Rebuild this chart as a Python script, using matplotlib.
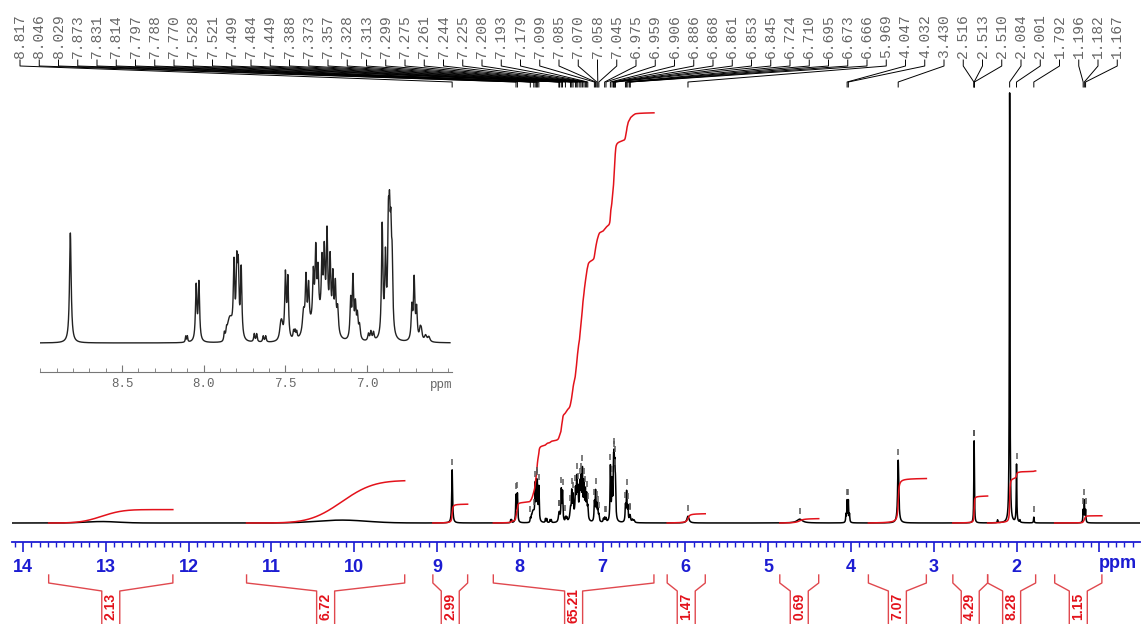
import numpy as np
import matplotlib
matplotlib.use('Agg')
from matplotlib import pyplot as plt

# picked peak labels along the top (ppm)
peak_labels = [8.817, 8.046, 8.029, 7.873, 7.831, 7.814, 7.797, 7.788, 7.770, 7.528,
               7.521, 7.499, 7.484, 7.449, 7.388, 7.373, 7.357, 7.328, 7.313, 7.299,
               7.275, 7.261, 7.244, 7.225, 7.208, 7.193, 7.179, 7.099, 7.085, 7.070,
               7.058, 7.045, 6.975, 6.959, 6.906, 6.886, 6.868, 6.861, 6.853, 6.845,
               6.724, 6.710, 6.695, 6.673, 6.666, 5.969, 4.047, 4.032, 3.430, 2.516,
               2.513, 2.510, 2.084, 2.001, 1.792, 1.196, 1.182, 1.167]

# sharp lines (lorentzian): position ppm, height, half width ppm
line_ppm = [8.817, 8.110, 8.100, 8.046, 8.029, 7.873, 7.860,
            7.814, 7.797, 7.788, 7.770, 7.690, 7.675, 7.635, 7.620,
            7.528, 7.521, 7.499, 7.484, 7.449, 7.440, 7.430,
            7.388, 7.373, 7.357, 7.328, 7.313, 7.299, 7.275, 7.261, 7.244, 7.225,
            7.208, 7.193, 7.179, 7.099, 7.085, 7.070, 7.058, 7.045,
            6.990, 6.975, 6.959, 6.906, 6.886, 6.868, 6.861, 6.853, 6.845,
            6.724, 6.710, 6.695, 6.673, 6.666, 6.640, 6.620,
            5.969, 4.620, 4.061, 4.047, 4.032, 4.018, 3.430,
            2.516, 2.513, 2.510, 2.230, 2.084, 2.001, 1.960, 1.792,
            1.196, 1.182, 1.167]
line_height = [110, 6, 6, 55, 58, 8, 6,
               72, 68, 64, 70, 8, 8, 6, 6,
               12, 12, 64, 60, 8, 8, 7,
               22, 52, 42, 48, 68, 46, 56, 66, 88, 66,
               52, 46, 26, 38, 60, 32, 22, 14,
               7, 9, 8, 112, 76, 95, 88, 80, 64,
               32, 60, 30, 10, 9, 6, 5,
               14, 8, 16, 44, 44, 16, 130,
               60, 110, 60, 6, 890, 120, 5, 12,
               25, 45, 25]
line_width = [0.006, 0.003, 0.003, 0.005, 0.005, 0.004, 0.004,
              0.005, 0.005, 0.005, 0.005, 0.004, 0.004, 0.004, 0.004,
              0.008, 0.008, 0.005, 0.005, 0.004, 0.004, 0.004,
              0.008, 0.005, 0.005, 0.005, 0.005, 0.005, 0.005, 0.005, 0.005, 0.005,
              0.005, 0.005, 0.006, 0.005, 0.005, 0.005, 0.005, 0.006,
              0.005, 0.005, 0.005, 0.005, 0.005, 0.005, 0.005, 0.005, 0.005,
              0.005, 0.005, 0.005, 0.006, 0.006, 0.008, 0.008,
              0.015, 0.04, 0.004, 0.004, 0.004, 0.004, 0.008,
              0.003, 0.003, 0.003, 0.004, 0.004, 0.004, 0.004, 0.004,
              0.004, 0.004, 0.004]

# broad humps (gaussian): position ppm, height, sigma ppm
hump_ppm = [13.05, 10.15, 7.84, 7.29]
hump_height = [3, 6, 22, 20]
hump_sigma = [0.2, 0.3, 0.015, 0.06]

# integral regions (ppm) and values
int_start = [13.69, 11.30, 9.05, 8.32, 6.22, 4.86, 3.79, 2.77, 2.35, 1.54]
int_end = [12.19, 9.39, 8.63, 6.38, 5.76, 4.39, 3.09, 2.35, 1.77, 0.97]
int_value = [2.13, 6.72, 2.99, 65.21, 1.47, 0.69, 7.07, 4.29, 8.28, 1.15]

extra_marks = [4.62]

BLUE = '#1c1cd2'
RED = '#e3121b'
BRACKET = '#e0484e'
GRAY = '#5a5a5a'

W, H = 1143, 624
BASE = 523          # pixel row of the spectrum baseline
PX_PPM = 82.8       # pixels per ppm on the main scale
MAIN_SCALE = 1 / 2.07
INT_PX = 6.29       # pixels per integral unit


def spectrum(x):
    y = np.zeros_like(x)
    for p, h, w in zip(line_ppm, line_height, line_width):
        y += h * w**2 / ((x - p)**2 + w**2)
    for p, h, s in zip(hump_ppm, hump_height, hump_sigma):
        y += h * np.exp(-0.5 * ((x - p) / s)**2)
    return y


def px_to_ppm(px):
    return 14 - (px - 23) / PX_PPM


def dy(py):
    # pixel row -> height above baseline in main data units
    return BASE - py


fig = plt.figure(figsize=(W / 100, H / 100), dpi=100)
ax = fig.add_axes([12 / W, 0, 1128 / W, 1])
ax.set_xlim(px_to_ppm(12), px_to_ppm(1140))
ax.set_ylim(dy(H), dy(0))

x = np.arange(14.13, 0.51, -0.0005)
y = spectrum(x)
ax.plot(x, y * MAIN_SCALE, color='black', lw=1.1)

# integrals
for a, b, v in zip(int_start, int_end, int_value):
    xs = np.arange(a, b, -0.0005)
    ys = spectrum(xs)
    cum = np.concatenate([[0], np.cumsum((ys[1:] + ys[:-1]) / 2)])
    ax.plot(xs, cum / cum[-1] * v * INT_PX, color=RED, lw=1.1)

# peak pick markers
for p in peak_labels + extra_marks:
    near = (x < p + 0.004) & (x > p - 0.004)
    h = y[near].max() * MAIN_SCALE
    if h > 300:
        continue
    ax.plot([p, p], [h + 5, h + 11], color=GRAY, lw=1.1, solid_capstyle='butt')

# peak labels and leaders
for i, p in enumerate(peak_labels):
    lx = px_to_ppm(20 + i * 19.25)
    ax.text(lx, dy(58), '%.3f' % p, rotation=90, ha='center', va='bottom',
            family='Liberation Mono', fontsize=10.5, color='#666666')
    ax.plot([lx, lx, p, p], [dy(60), dy(66), dy(82), dy(87)],
            color='black', lw=0.7, clip_on=False)

# integral brackets below the axis
half = 9 / PX_PPM
for a, b, v in zip(int_start, int_end, int_value):
    c = (a + b) / 2
    ax.plot([a, a, c + half, c + half], [dy(575), dy(583), dy(591), dy(H)],
            color=BRACKET, lw=1, clip_on=False)
    ax.plot([b, b, c - half, c - half], [dy(575), dy(583), dy(591), dy(H)],
            color=BRACKET, lw=1, clip_on=False)
    ax.text(c, dy(606), '%.2f' % v, rotation=90, ha='center', va='center',
            fontsize=10, fontweight='bold', color=RED, family='Liberation Sans')

# main ppm axis
for s in ['top', 'left', 'right']:
    ax.spines[s].set_visible(False)
ax.spines['bottom'].set_position(('data', dy(542)))
ax.spines['bottom'].set_color(BLUE)
ax.spines['bottom'].set_linewidth(1.3)
ax.set_yticks([])
ax.set_xticks(range(1, 15))
ax.set_xticklabels([''] + [str(t) for t in range(2, 15)])
ax.set_xticks(np.arange(0.6, 14.15, 0.1), minor=True)
ax.tick_params(axis='x', which='major', direction='out', length=7, width=1.2,
               color=BLUE, labelcolor=BLUE, labelsize=13, pad=5)
ax.tick_params(axis='x', which='minor', direction='out', length=3.5, width=1,
               color=BLUE)
for lab in ax.get_xticklabels():
    lab.set_fontweight('bold')
    lab.set_family('Liberation Sans')
ax.text(px_to_ppm(1118), dy(563), 'ppm', ha='center', va='center', fontsize=13,
        fontweight='bold', color=BLUE, family='Liberation Sans')
ax.patch.set_alpha(0)

# inset with the aromatic region
ins = fig.add_axes([40 / W, (H - 372) / H, 412 / W, (372 - 170) / H])
xi = np.arange(9.0, 6.49, -0.0005)
ins.plot(xi, spectrum(xi), color='#222222', lw=1.0)
ins.set_xlim(9.003, 6.478)
ins.set_ylim(-29, 173)
for s in ['top', 'left', 'right']:
    ins.spines[s].set_visible(False)
ins.spines['bottom'].set_color('#777777')
ins.set_yticks([])
ins.set_xticks([7.0, 7.5, 8.0, 8.5])
ins.set_xticklabels(['7.0', '7.5', '8.0', '8.5'])
ins.set_xticks(np.arange(6.5, 9.01, 0.1), minor=True)
ins.tick_params(axis='x', which='major', direction='in', length=5, color='#777777',
                labelcolor='#666666', labelsize=9, pad=4)
ins.tick_params(axis='x', which='minor', direction='in', length=3, color='#777777')
for lab in ins.get_xticklabels():
    lab.set_family('Liberation Mono')
ins.text(6.545, -42, 'ppm', ha='center', va='center', fontsize=9, color='#666666',
         family='Liberation Mono')
ins.patch.set_alpha(0)

fig.savefig('out.png', dpi=100)
